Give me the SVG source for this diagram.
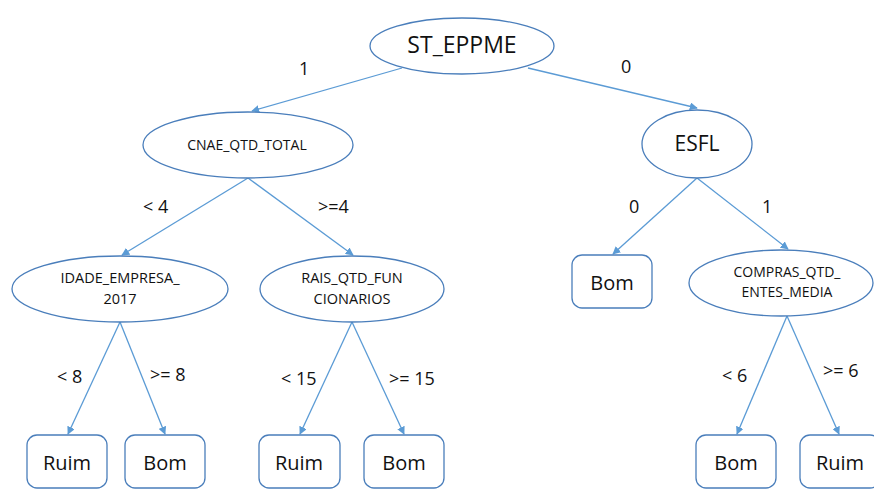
<svg xmlns="http://www.w3.org/2000/svg" width="874" height="489" viewBox="0 0 874 489">
<style>
.n{fill:#fff;stroke:#4a7ebb;stroke-width:1.3}
.t{font-family:"Open Sans","Liberation Sans",sans-serif;fill:#111;text-anchor:middle}
.c{stroke:#5b9bd5;stroke-width:1.3;fill:none;marker-end:url(#a)}
.l{font-family:"Open Sans","Liberation Sans",sans-serif;fill:#111;font-size:18px}
</style>
<defs>
<marker id="a" viewBox="0 0 10 10" refX="9" refY="5" markerWidth="8" markerHeight="8" orient="auto" markerUnits="userSpaceOnUse">
<path d="M0,0 L10,5 L0,10 z" fill="#5b9bd5"/>
</marker>
</defs>
<rect width="874" height="489" fill="#fff"/>
<g id="connectors">
<line class="c" x1="402" y1="68" x2="252" y2="111"/>
<line class="c" x1="528" y1="68" x2="697" y2="108"/>
<line class="c" x1="248" y1="178" x2="122" y2="255"/>
<line class="c" x1="248" y1="178" x2="353" y2="255"/>
<line class="c" x1="697" y1="178" x2="613" y2="254"/>
<line class="c" x1="697" y1="178" x2="788" y2="249"/>
<line class="c" x1="120" y1="322" x2="68" y2="434"/>
<line class="c" x1="120" y1="322" x2="165" y2="434"/>
<line class="c" x1="352" y1="322" x2="300" y2="434"/>
<line class="c" x1="352" y1="322" x2="404" y2="434"/>
<line class="c" x1="787" y1="316" x2="737" y2="434"/>
<line class="c" x1="787" y1="316" x2="839" y2="434"/>
<text class="l" x="299" y="75">1</text>
<text class="l" x="621" y="73">0</text>
<text class="l" x="143" y="213">&lt; 4</text>
<text class="l" x="318" y="213">&gt;=4</text>
<text class="l" x="629" y="213">0</text>
<text class="l" x="762" y="213">1</text>
<text class="l" x="57" y="383">&lt; 8</text>
<text class="l" x="150" y="381">&gt;= 8</text>
<text class="l" x="281" y="385">&lt; 15</text>
<text class="l" x="389" y="385">&gt;= 15</text>
<text class="l" x="722" y="382">&lt; 6</text>
<text class="l" x="823" y="377">&gt;= 6</text>
</g>
<g id="st_eppme"><ellipse class="n" cx="462" cy="46" rx="92" ry="28"/><text class="t" x="462" y="53" font-size="23">ST_EPPME</text></g>
<g id="cnae"><ellipse class="n" cx="248" cy="145" rx="105" ry="33"/><text class="t" x="247" y="150" font-size="14">CNAE_QTD_TOTAL</text></g>
<g id="esfl"><ellipse class="n" cx="697" cy="144" rx="55" ry="34"/><text class="t" x="697" y="151" font-size="21">ESFL</text></g>
<g id="idade"><ellipse class="n" cx="120" cy="289" rx="108" ry="33"/><text class="t" x="120" y="283" font-size="14.5">IDADE_EMPRESA_</text><text class="t" x="120" y="304" font-size="14.5">2017</text></g>
<g id="rais"><ellipse class="n" cx="352" cy="289" rx="92" ry="33"/><text class="t" x="352" y="283" font-size="14.5">RAIS_QTD_FUN</text><text class="t" x="352" y="304" font-size="14.5">CIONARIOS</text></g>
<g id="compras"><ellipse class="n" cx="781" cy="283" rx="92" ry="33"/><text class="t" x="787" y="277" font-size="14">COMPRAS_QTD_</text><text class="t" x="787" y="297" font-size="14">ENTES_MEDIA</text></g>
<g id="bom_esfl"><rect class="n" x="572" y="255" width="80" height="53" rx="10"/><text class="t" x="612" y="290" font-size="20">Bom</text></g>
<g id="ruim1"><rect class="n" x="27" y="435" width="80" height="53" rx="10"/><text class="t" x="67" y="470" font-size="20">Ruim</text></g>
<g id="bom1"><rect class="n" x="125" y="435" width="80" height="53" rx="10"/><text class="t" x="165" y="470" font-size="20">Bom</text></g>
<g id="ruim2"><rect class="n" x="259" y="435" width="81" height="53" rx="10"/><text class="t" x="299" y="470" font-size="20">Ruim</text></g>
<g id="bom2"><rect class="n" x="364" y="435" width="80" height="53" rx="10"/><text class="t" x="404" y="470" font-size="20">Bom</text></g>
<g id="bom3"><rect class="n" x="696" y="435" width="80" height="53" rx="10"/><text class="t" x="736" y="470" font-size="20">Bom</text></g>
<g id="ruim3"><rect class="n" x="800" y="435" width="80" height="53" rx="10"/><text class="t" x="840" y="470" font-size="20">Ruim</text></g>
</svg>
